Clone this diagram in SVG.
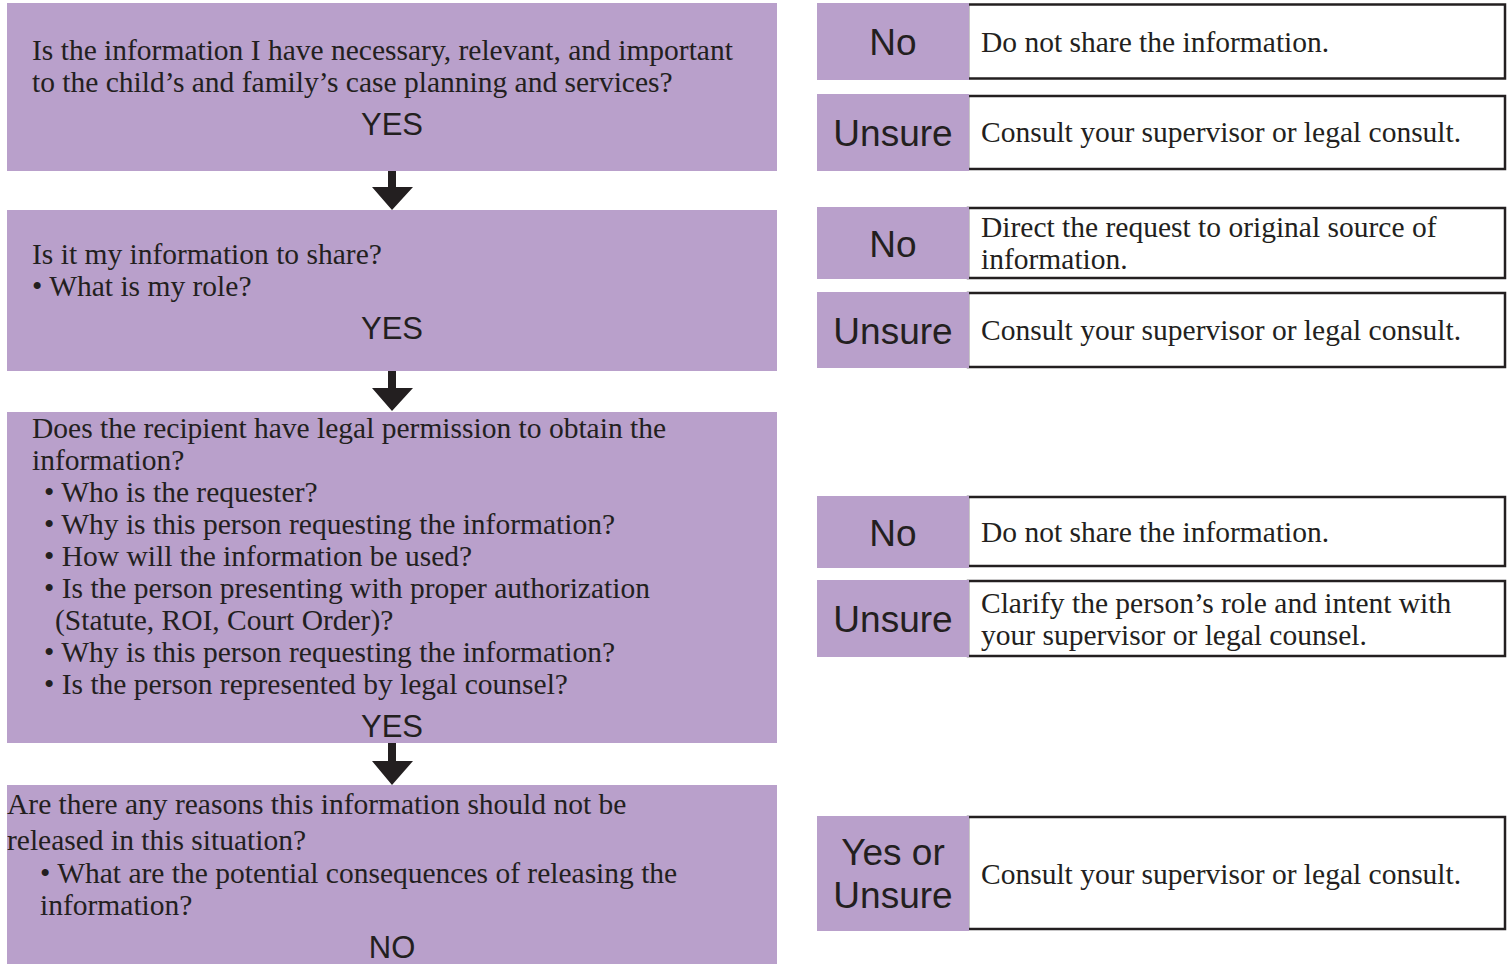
<svg xmlns="http://www.w3.org/2000/svg" width="1512" height="964" viewBox="0 0 1512 964">
<style>
.box{fill:#b9a0cb}
.out{fill:#ffffff;stroke:#231f20;stroke-width:2.5}
.q{font-family:"Liberation Serif",serif;font-size:29.5px;fill:#231f20}
.lab{font-family:"Liberation Sans",Arial,sans-serif;font-size:37px;fill:#231f20;text-anchor:middle}
.yes{font-family:"Liberation Sans",Arial,sans-serif;font-size:31px;fill:#231f20;text-anchor:middle}
.arr{fill:#231f20}
</style>
<rect width="1512" height="964" fill="#ffffff"/>
<g id="q1">
<rect class="box" x="7" y="3" width="770" height="168"/>
<text class="q" x="32" y="60">Is the information I have necessary, relevant, and important</text>
<text class="q" x="32" y="92">to the child’s and family’s case planning and services?</text>
<text class="yes" x="392" y="135">YES</text>
</g>
<g id="q2">
<rect class="box" x="7" y="210" width="770" height="161"/>
<text class="q" x="32" y="264">Is it my information to share?</text>
<text class="q" x="32" y="296">• What is my role?</text>
<text class="yes" x="392" y="339">YES</text>
</g>
<g id="q3">
<rect class="box" x="7" y="412" width="770" height="331"/>
<text class="q" x="32" y="438">Does the recipient have legal permission to obtain the</text>
<text class="q" x="32" y="470">information?</text>
<text class="q" x="44" y="502">• Who is the requester?</text>
<text class="q" x="44" y="534">• Why is this person requesting the information?</text>
<text class="q" x="44" y="566">• How will the information be used?</text>
<text class="q" x="44" y="598">• Is the person presenting with proper authorization</text>
<text class="q" x="55" y="630">(Statute, ROI, Court Order)?</text>
<text class="q" x="44" y="662">• Why is this person requesting the information?</text>
<text class="q" x="44" y="694">• Is the person represented by legal counsel?</text>
<text class="yes" x="392" y="737">YES</text>
</g>
<g id="q4">
<rect class="box" x="7" y="785" width="770" height="179"/>
<text class="q" x="7" y="814">Are there any reasons this information should not be</text>
<text class="q" x="7" y="850">released in this situation?</text>
<text class="q" x="40" y="883">• What are the potential consequences of releasing the</text>
<text class="q" x="40" y="915">information?</text>
<text class="yes" x="392" y="958">NO</text>
</g>
<g id="connectors">
<path class="arr" d="M388,171 H396 V187 H413 L392,210 L372,187 H388 Z"/>
<path class="arr" d="M388,371 H396 V388 H413 L392,411 L372,388 H388 Z"/>
<path class="arr" d="M388,743 H396 V761 H413 L392,785 L372,761 H388 Z"/>
</g>
<g id="r1">
<rect class="out" x="968" y="4.5" width="537" height="74"/>
<rect class="box" x="817" y="3" width="152" height="77"/>
<text class="lab" x="893" y="55">No</text>
<text class="q" x="981" y="52">Do not share the information.</text>
</g>
<g id="r2">
<rect class="out" x="968" y="96" width="537" height="73"/>
<rect class="box" x="817" y="94" width="152" height="77"/>
<text class="lab" x="893" y="146">Unsure</text>
<text class="q" x="981" y="142">Consult your supervisor or legal consult.</text>
</g>
<g id="r3">
<rect class="out" x="968" y="208" width="537" height="70"/>
<rect class="box" x="817" y="207" width="152" height="72"/>
<text class="lab" x="893" y="257">No</text>
<text class="q" x="981" y="237">Direct the request to original source of</text>
<text class="q" x="981" y="269">information.</text>
</g>
<g id="r4">
<rect class="out" x="968" y="293" width="537" height="74"/>
<rect class="box" x="817" y="292" width="152" height="76"/>
<text class="lab" x="893" y="344">Unsure</text>
<text class="q" x="981" y="340">Consult your supervisor or legal consult.</text>
</g>
<g id="r5">
<rect class="out" x="968" y="497" width="537" height="69"/>
<rect class="box" x="817" y="496" width="152" height="72"/>
<text class="lab" x="893" y="546">No</text>
<text class="q" x="981" y="542">Do not share the information.</text>
</g>
<g id="r6">
<rect class="out" x="968" y="581" width="537" height="75"/>
<rect class="box" x="817" y="580" width="152" height="77"/>
<text class="lab" x="893" y="632">Unsure</text>
<text class="q" x="981" y="613">Clarify the person’s role and intent with</text>
<text class="q" x="981" y="645">your supervisor or legal counsel.</text>
</g>
<g id="r7">
<rect class="out" x="968" y="817" width="537" height="112"/>
<rect class="box" x="817" y="816" width="152" height="115"/>
<text class="lab" x="893" y="865">Yes or</text>
<text class="lab" x="893" y="908">Unsure</text>
<text class="q" x="981" y="884">Consult your supervisor or legal consult.</text>
</g>
</svg>
